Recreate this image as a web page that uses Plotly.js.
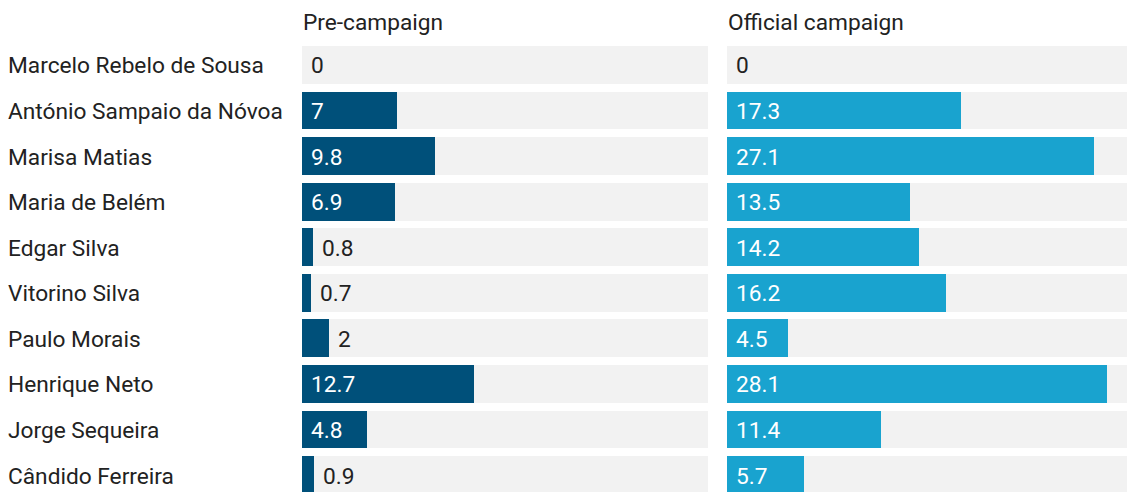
<!DOCTYPE html>
<html>
<head>
<meta charset="utf-8">
<script src="https://cdn.plot.ly/plotly-3.0.1.min.js"></script>
<style>html,body{margin:0;padding:0;background:#fff;}#chart{width:1127px;height:492px;}</style>
</head>
<body>
<div id="chart"></div>
<script>
const candidates = ["Marcelo Rebelo de Sousa","António Sampaio da Nóvoa","Marisa Matias","Maria de Belém","Edgar Silva","Vitorino Silva","Paulo Morais","Henrique Neto","Jorge Sequeira","Cândido Ferreira"];
const preCampaign = [0, 7, 9.8, 6.9, 0.8, 0.7, 2, 12.7, 4.8, 0.9];
const officialCampaign = [0, 17.3, 27.1, 13.5, 14.2, 16.2, 4.5, 28.1, 11.4, 5.7];
const panelTitles = ["Pre-campaign", "Official campaign"];
const maxValue = 30;

const W = 1127, H = 492;
const FONT = "Roboto, 'Noto Sans', sans-serif";
const FS = 22.7;
const TEXT = "#222222";
const GRAY = "#f2f2f2";
const DARK = "#00507a";
const LIGHT = "#19a3cf";
const barW = 0.83;

const bgVals = candidates.map(() => maxValue);
const traces = [
  {type:'bar', orientation:'h', y:candidates, x:bgVals, xaxis:'x', yaxis:'y', marker:{color:GRAY}, width:barW, hoverinfo:'skip', showlegend:false},
  {type:'bar', orientation:'h', y:candidates, x:preCampaign, xaxis:'x', yaxis:'y', marker:{color:DARK}, width:barW, showlegend:false},
  {type:'bar', orientation:'h', y:candidates, x:bgVals, xaxis:'x2', yaxis:'y2', marker:{color:GRAY}, width:barW, hoverinfo:'skip', showlegend:false},
  {type:'bar', orientation:'h', y:candidates, x:officialCampaign, xaxis:'x2', yaxis:'y2', marker:{color:LIGHT}, width:barW, showlegend:false}
];

const annotations = [];
candidates.forEach((c, i) => {
  annotations.push({xref:'paper', yref:'y', x:6/W, y:c, xanchor:'left', yanchor:'middle', yshift:-1, text:c, showarrow:false, font:{family:FONT, size:FS, color:TEXT}});
});
function valueLabels(vals, xr, yr) {
  vals.forEach((v, i) => {
    const inside = v >= 3;
    annotations.push({xref:xr, yref:yr, x: inside ? 0 : v, y:candidates[i], xanchor:'left', yanchor:'middle', xshift:7, yshift:-1, text:String(v), showarrow:false,
      font:{family:FONT, size:FS, color: inside ? '#ffffff' : TEXT}});
  });
}
valueLabels(preCampaign, 'x', 'y');
valueLabels(officialCampaign, 'x2', 'y2');
annotations.push({xref:'x domain', yref:'paper', x:0, y:1 + 18/452, xanchor:'left', yanchor:'middle', xshift:-1, text:panelTitles[0], showarrow:false, font:{family:FONT, size:FS, color:TEXT}});
annotations.push({xref:'x2 domain', yref:'paper', x:0, y:1 + 18/452, xanchor:'left', yanchor:'middle', xshift:-1, text:panelTitles[1], showarrow:false, font:{family:FONT, size:FS, color:TEXT}});

const yRange = [9.37, -0.547];
const axY = {type:'category', categoryorder:'array', categoryarray:candidates, range:yRange, showticklabels:false, showgrid:false, zeroline:false, showline:false, ticks:''};
const layout = {
  width:W, height:H,
  margin:{l:0, r:0, t:40, b:0},
  paper_bgcolor:'#ffffff', plot_bgcolor:'#ffffff',
  barmode:'overlay', bargap:0,
  font:{family:FONT, color:TEXT},
  xaxis:{domain:[302/W, 708/W], range:[0, maxValue], showgrid:false, zeroline:false, showticklabels:false, fixedrange:true},
  xaxis2:{domain:[727/W, 1], range:[0, 400/13.53], showgrid:false, zeroline:false, showticklabels:false, fixedrange:true},
  yaxis:Object.assign({anchor:'x'}, axY),
  yaxis2:Object.assign({anchor:'x2'}, axY),
  annotations:annotations
};
Plotly.newPlot('chart', traces, layout, {displayModeBar:false, staticPlot:true});
</script>
</body>
</html>
